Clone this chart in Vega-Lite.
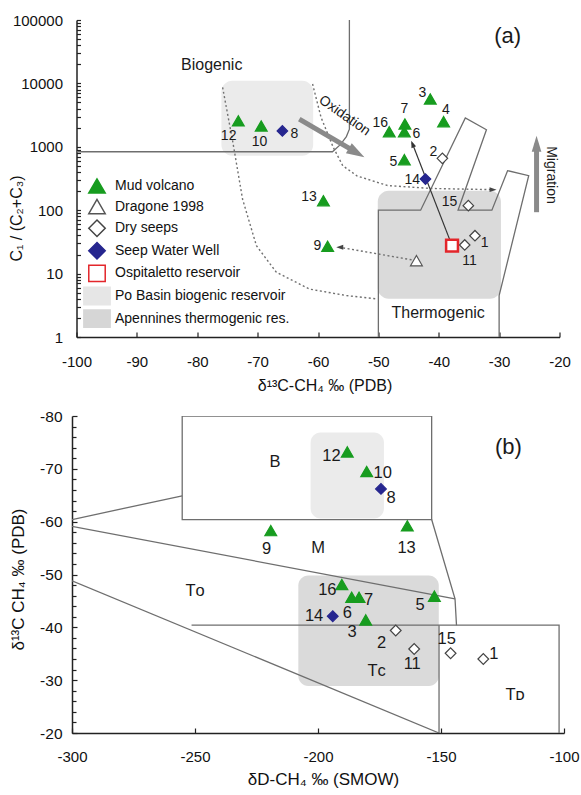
{
  "$schema": "https://vega.github.io/schema/vega-lite/v6.json",
  "background": "white",
  "padding": {"left": 8, "top": 13, "right": 5, "bottom": 5},
  "config": {
    "view": {"stroke": null},
    "font": "Liberation Sans",
    "axis": {"grid": false, "domainColor": "#222", "domainWidth": 1.5, "tickColor": "#222", "tickWidth": 1.2, "tickSize": -5, "labelColor": "#111", "titleColor": "#111", "labelFont": "Liberation Sans", "titleFont": "Liberation Sans", "titleFontWeight": "normal", "labelFlush": false, "labelOverlap": false},
    "text": {"font": "Liberation Sans", "color": "#1a1a1a"}
  },
  "datasets": {
    "ptsA": [
      {"id": "1", "type": "Dry seeps", "x": -34.0, "y": 39.6},
      {"id": "2", "type": "Dry seeps", "x": -39.4, "y": 658},
      {"id": "3", "type": "Mud volcano", "x": -41.4, "y": 5680},
      {"id": "4", "type": "Mud volcano", "x": -39.2, "y": 2490},
      {"id": "5", "type": "Mud volcano", "x": -45.7, "y": 626},
      {"id": "6", "type": "Mud volcano", "x": -45.7, "y": 1730},
      {"id": "7", "type": "Mud volcano", "x": -45.6, "y": 2290},
      {"id": "8", "type": "Seep Water Well", "x": -65.9, "y": 1780},
      {"id": "9", "type": "Mud volcano", "x": -58.4, "y": 27},
      {"id": "10", "type": "Mud volcano", "x": -69.4, "y": 2130},
      {"id": "11", "type": "Dry seeps", "x": -35.7, "y": 28.3},
      {"id": "12", "type": "Mud volcano", "x": -73.2, "y": 2570},
      {"id": "13", "type": "Mud volcano", "x": -59.1, "y": 141},
      {"id": "14", "type": "Seep Water Well", "x": -42.2, "y": 310},
      {"id": "15", "type": "Dry seeps", "x": -35.1, "y": 118},
      {"id": "16", "type": "Mud volcano", "x": -48.2, "y": 1730},
      {"id": "D", "type": "Dragone 1998", "x": -43.7, "y": 16},
      {"id": "O", "type": "Ospitaletto reservoir", "x": -37.8, "y": 27.6}
    ],
    "lblA": [
      {"t": "1", "x": -32.4, "y": 30},
      {"t": "2", "x": -40.9, "y": 835},
      {"t": "3", "x": -42.7, "y": 6980},
      {"t": "4", "x": -38.8, "y": 3810},
      {"t": "5", "x": -47.5, "y": 582},
      {"t": "6", "x": -43.7, "y": 1590},
      {"t": "7", "x": -45.7, "y": 3950},
      {"t": "8", "x": -63.9, "y": 1590},
      {"t": "9", "x": -60.1, "y": 27.5},
      {"t": "10", "x": -69.7, "y": 1178},
      {"t": "11", "x": -34.9, "y": 16},
      {"t": "12", "x": -74.8, "y": 1465},
      {"t": "13", "x": -61.5, "y": 160},
      {"t": "14", "x": -44.4, "y": 299},
      {"t": "15", "x": -38.2, "y": 133},
      {"t": "16", "x": -49.7, "y": 2370}
    ],
    "txtA": [
      {"t": "Biogenic", "x": -77.6, "y": 19500},
      {"t": "Thermogenic", "x": -40.1, "y": 2.39},
      {"t": "(a)", "x": -28.6, "y": 55000},
      {"t": "Oxidation", "x": -55.6, "y": 3100},
      {"t": "Migration", "x": -21.4, "y": 359}
    ],
    "regA": [
      {"name": "Po Basin biogenic reservoir", "x": -76.0, "x2": -60.8, "y": 720, "y2": 11000},
      {"name": "Apennines thermogenic res.", "x": -50.1, "x2": -29.7, "y": 4, "y2": 203}
    ],
    "linA": [
      {"g": "bio", "o": 1, "x": -100, "y": 835},
      {"g": "bio", "o": 2, "x": -57.6, "y": 835},
      {"g": "bio", "o": 3, "x": -56.3, "y": 1080},
      {"g": "bio", "o": 4, "x": -55.3, "y": 1450},
      {"g": "bio", "o": 5, "x": -54.8, "y": 1900},
      {"g": "bio", "o": 6, "x": -54.8, "y": 100000},
      {"g": "thermo", "o": 1, "x": -50, "y": 1},
      {"g": "thermo", "o": 2, "x": -50, "y": 100},
      {"g": "thermo", "o": 3, "x": -43, "y": 100},
      {"g": "thermo", "o": 4, "x": -35.6, "y": 2845},
      {"g": "thermo", "o": 5, "x": -32.1, "y": 1860},
      {"g": "thermo", "o": 6, "x": -36.8, "y": 100},
      {"g": "thermo", "o": 7, "x": -31.2, "y": 100},
      {"g": "thermo", "o": 8, "x": -28.6, "y": 420},
      {"g": "thermo", "o": 9, "x": -25.1, "y": 350},
      {"g": "thermo", "o": 10, "x": -30, "y": 4.5},
      {"g": "thermo", "o": 11, "x": -30, "y": 1},
      {"g": "d1", "o": 1, "x": -75.8, "y": 8670},
      {"g": "d1", "o": 2, "x": -74.1, "y": 1178},
      {"g": "d1", "o": 3, "x": -72.5, "y": 150},
      {"g": "d1", "o": 4, "x": -70.2, "y": 27.5},
      {"g": "d1", "o": 5, "x": -66.9, "y": 10.5},
      {"g": "d1", "o": 6, "x": -61.4, "y": 5.7},
      {"g": "d1", "o": 7, "x": -55.3, "y": 4.5},
      {"g": "d1", "o": 8, "x": -50.4, "y": 4.0},
      {"g": "d2", "o": 1, "x": -60.9, "y": 9800},
      {"g": "d2", "o": 2, "x": -59.5, "y": 2920},
      {"g": "d2", "o": 3, "x": -57.5, "y": 993},
      {"g": "d2", "o": 4, "x": -55.9, "y": 503},
      {"g": "d2", "o": 5, "x": -53.5, "y": 346},
      {"g": "d2", "o": 6, "x": -48.5, "y": 245},
      {"g": "d2", "o": 7, "x": -41.2, "y": 220},
      {"g": "d2", "o": 8, "x": -31.0, "y": 211},
      {"g": "d3", "o": 1, "x": -44.5, "y": 16.5},
      {"g": "d3", "o": 2, "x": -56.4, "y": 26},
      {"g": "r6", "o": 1, "x": -37.8, "y": 27.6},
      {"g": "r6", "o": 2, "x": -44.4, "y": 1150},
      {"g": "ox", "o": 1, "x": -63.1, "y": 2740},
      {"g": "ox", "o": 2, "x": -53.6, "y": 807},
      {"g": "mig", "o": 1, "x": -23.8, "y": 93},
      {"g": "mig", "o": 2, "x": -23.8, "y": 1120}
    ],
    "arrA": [
      {"g": "ox", "x": -53.6, "y": 807},
      {"g": "mig", "x": -23.8, "y": 1120},
      {"g": "d2", "x": -31.0, "y": 211},
      {"g": "d3", "x": -56.4, "y": 26},
      {"g": "r6", "x": -44.35, "y": 1107}
    ],
    "ptsB": [
      {"id": "1", "type": "Dry seeps", "x": -132.8, "y": -34.0},
      {"id": "2", "type": "Dry seeps", "x": -168.4, "y": -39.4},
      {"id": "3", "type": "Mud volcano", "x": -180.6, "y": -41.4},
      {"id": "5", "type": "Mud volcano", "x": -152.7, "y": -45.9},
      {"id": "6", "type": "Mud volcano", "x": -186.3, "y": -45.7},
      {"id": "7", "type": "Mud volcano", "x": -183.3, "y": -45.7},
      {"id": "8", "type": "Seep Water Well", "x": -174.4, "y": -66.2},
      {"id": "9", "type": "Mud volcano", "x": -219.2, "y": -58.3},
      {"id": "10", "type": "Mud volcano", "x": -180.2, "y": -69.5},
      {"id": "11", "type": "Dry seeps", "x": -160.9, "y": -35.9},
      {"id": "12", "type": "Mud volcano", "x": -188.1, "y": -73.2},
      {"id": "13", "type": "Mud volcano", "x": -163.7, "y": -59.2},
      {"id": "14", "type": "Seep Water Well", "x": -194.0, "y": -42.1},
      {"id": "15", "type": "Dry seeps", "x": -146.1, "y": -35.1},
      {"id": "16", "type": "Mud volcano", "x": -190.3, "y": -48.1}
    ],
    "lblB": [
      {"t": "12", "x": -194.5, "y": -72.5},
      {"t": "10", "x": -173.7, "y": -69.2},
      {"t": "8", "x": -170.3, "y": -64.5},
      {"t": "9", "x": -220.9, "y": -54.8},
      {"t": "13", "x": -164.0, "y": -55.1},
      {"t": "16", "x": -196.2, "y": -47.1},
      {"t": "7", "x": -179.4, "y": -45.1},
      {"t": "6", "x": -188.1, "y": -42.8},
      {"t": "5", "x": -158.5, "y": -44.3},
      {"t": "14", "x": -201.6, "y": -42.2},
      {"t": "3", "x": -186.1, "y": -39.2},
      {"t": "2", "x": -174.1, "y": -37.0},
      {"t": "11", "x": -161.7, "y": -33.1},
      {"t": "15", "x": -147.7, "y": -37.8},
      {"t": "1", "x": -128.5, "y": -34.9}
    ],
    "txtB": [
      {"t": "B", "x": -217.5, "y": -71.3},
      {"t": "M", "x": -199.9, "y": -55.0},
      {"t": "Tᴏ", "x": -250, "y": -46.9},
      {"t": "Tᴄ", "x": -176.2, "y": -31.8},
      {"t": "Tᴅ", "x": -119.9, "y": -27.2}
    ],
    "regB": [
      {"name": "Po Basin biogenic reservoir", "x": -203, "x2": -173.2, "y": -76.9, "y2": -60.6},
      {"name": "Apennines thermogenic res.", "x": -208, "x2": -150.9, "y": -49.8, "y2": -28.9}
    ],
    "linB": [
      {"g": "box", "o": 1, "x": -255.2, "y": -80},
      {"g": "box", "o": 2, "x": -153.8, "y": -80},
      {"g": "box", "o": 3, "x": -153.8, "y": -60.4},
      {"g": "box", "o": 4, "x": -255.2, "y": -60.4},
      {"g": "box", "o": 5, "x": -255.2, "y": -80},
      {"g": "rline", "o": 1, "x": -153.8, "y": -60.4},
      {"g": "rline", "o": 2, "x": -144.3, "y": -45.4},
      {"g": "rline", "o": 3, "x": -143.7, "y": -40.4},
      {"g": "l1", "o": 1, "x": -300, "y": -60.4},
      {"g": "l1", "o": 2, "x": -255.2, "y": -64.9},
      {"g": "l2", "o": 1, "x": -300, "y": -59.1},
      {"g": "l2", "o": 2, "x": -144.3, "y": -45.4},
      {"g": "l3", "o": 1, "x": -300, "y": -48.8},
      {"g": "l3", "o": 2, "x": -150.8, "y": -20},
      {"g": "td", "o": 1, "x": -251.4, "y": -40.4},
      {"g": "td", "o": 2, "x": -102, "y": -40.4},
      {"g": "td", "o": 3, "x": -102, "y": -20},
      {"g": "tdl", "o": 1, "x": -150.8, "y": -40.4},
      {"g": "tdl", "o": 2, "x": -150.8, "y": -20}
    ]
  },
  "vconcat": [
    {
      "width": 483,
      "height": 317,
      "layer": [
        {
          "data": {"name": "regA"},
          "transform": [{"filter": {"field": "name", "equal": "Po Basin biogenic reservoir"}}],
          "mark": {"type": "rect", "cornerRadius": 11, "color": "#ebebeb"},
          "encoding": {
            "x": {"field": "x", "type": "quantitative", "scale": {"domain": [-100, -20], "nice": false, "zero": false},
              "axis": {"values": [-100, -90, -80, -70, -60, -50, -40, -30, -20], "labelExpr": "replace(datum.label, '−', '-')", "labelOverlap": false, "labelFontSize": 15, "labelPadding": 22, "title": "δ¹³C-CH₄ ‰ (PDB)", "titleFontSize": 16, "titleX": 248, "titleY": 48, "titleBaseline": "middle", "titleAnchor": null}},
            "x2": {"field": "x2"},
            "y": {"field": "y", "type": "quantitative", "scale": {"type": "log", "domain": [1, 100000], "nice": false},
              "axis": {"values": [1,2,3,4,5,6,7,8,9,10,20,30,40,50,60,70,80,90,100,200,300,400,500,600,700,800,900,1000,2000,3000,4000,5000,6000,7000,8000,9000,10000,20000,30000,40000,50000,60000,70000,80000,90000,100000],
                "format": "d", "labelExpr": "indexof([1,10,100,1000,10000,100000], datum.value) >= 0 ? datum.label : ''", "labelOverlap": false,
                "tickSize": -4, "labelFontSize": 15, "labelPadding": 18, "title": "C₁ / (C₂+C₃)", "titleFontSize": 16, "titleAngle": 270, "titleX": -60, "titleY": 198, "titleBaseline": "middle", "titleAlign": "center"}},
            "y2": {"field": "y2"}
          }
        },
        {
          "data": {"name": "regA"},
          "transform": [{"filter": {"field": "name", "equal": "Apennines thermogenic res."}}],
          "mark": {"type": "rect", "cornerRadius": 11, "color": "#dadada"},
          "encoding": {"x": {"field": "x", "type": "quantitative"}, "x2": {"field": "x2"}, "y": {"field": "y", "type": "quantitative"}, "y2": {"field": "y2"}}
        },
        {
          "data": {"name": "linA"},
          "transform": [{"filter": {"field": "g", "oneOf": ["bio", "thermo"]}}],
          "mark": {"type": "line", "color": "#6e6e6e", "strokeWidth": 1.3, "clip": true},
          "encoding": {"x": {"field": "x", "type": "quantitative"}, "y": {"field": "y", "type": "quantitative"}, "detail": {"field": "g"}, "order": {"field": "o"}}
        },
        {
          "data": {"name": "linA"},
          "transform": [{"filter": {"field": "g", "oneOf": ["d1", "d2", "d3"]}}],
          "mark": {"type": "line", "color": "#707070", "strokeWidth": 1.4, "strokeDash": [2, 2.5], "clip": true},
          "encoding": {"x": {"field": "x", "type": "quantitative"}, "y": {"field": "y", "type": "quantitative"}, "detail": {"field": "g"}, "order": {"field": "o"}}
        },
        {
          "data": {"name": "linA"},
          "transform": [{"filter": {"field": "g", "equal": "r6"}}],
          "mark": {"type": "line", "color": "#333333", "strokeWidth": 1.2},
          "encoding": {"x": {"field": "x", "type": "quantitative"}, "y": {"field": "y", "type": "quantitative"}, "order": {"field": "o"}}
        },
        {
          "data": {"name": "linA"},
          "transform": [{"filter": {"field": "g", "oneOf": ["ox", "mig"]}}],
          "mark": {"type": "line", "color": "#8a8a8a", "strokeWidth": 5},
          "encoding": {"x": {"field": "x", "type": "quantitative"}, "y": {"field": "y", "type": "quantitative"}, "detail": {"field": "g"}, "order": {"field": "o"}}
        },
        {
          "data": {"name": "arrA"},
          "transform": [{"filter": {"field": "g", "equal": "ox"}}],
          "mark": {"type": "point", "shape": "M0,-1L0.65,1L-0.65,1Z", "filled": true, "color": "#8a8a8a", "size": 324, "angle": 120, "opacity": 1},
          "encoding": {"x": {"field": "x", "type": "quantitative"}, "y": {"field": "y", "type": "quantitative"}}
        },
        {
          "data": {"name": "arrA"},
          "transform": [{"filter": {"field": "g", "equal": "mig"}}],
          "mark": {"type": "point", "shape": "M0,-1L0.6,1L-0.6,1Z", "filled": true, "color": "#8a8a8a", "size": 256, "angle": 0, "opacity": 1},
          "encoding": {"x": {"field": "x", "type": "quantitative"}, "y": {"field": "y", "type": "quantitative"}}
        },
        {
          "data": {"name": "arrA"},
          "transform": [{"filter": {"field": "g", "equal": "d2"}}],
          "mark": {"type": "point", "shape": "M0,-1L0.7,1L-0.7,1Z", "filled": true, "color": "#444", "size": 49, "angle": 90, "opacity": 1},
          "encoding": {"x": {"field": "x", "type": "quantitative"}, "y": {"field": "y", "type": "quantitative"}}
        },
        {
          "data": {"name": "arrA"},
          "transform": [{"filter": {"field": "g", "equal": "d3"}}],
          "mark": {"type": "point", "shape": "M0,-1L0.7,1L-0.7,1Z", "filled": true, "color": "#444", "size": 49, "angle": 270, "opacity": 1},
          "encoding": {"x": {"field": "x", "type": "quantitative"}, "y": {"field": "y", "type": "quantitative"}}
        },
        {
          "data": {"name": "arrA"},
          "transform": [{"filter": {"field": "g", "equal": "r6"}}],
          "mark": {"type": "point", "shape": "M0,-1L0.7,1L-0.7,1Z", "filled": true, "color": "#333", "size": 49, "angle": 338, "opacity": 1},
          "encoding": {"x": {"field": "x", "type": "quantitative"}, "y": {"field": "y", "type": "quantitative"}}
        },
        {
          "data": {"name": "ptsA"},
          "mark": {"type": "point", "filled": true, "opacity": 1},
          "encoding": {
            "x": {"field": "x", "type": "quantitative"},
            "y": {"field": "y", "type": "quantitative"},
            "shape": {"field": "type", "type": "nominal",
              "scale": {"domain": ["Mud volcano", "Dragone 1998", "Dry seeps", "Seep Water Well", "Ospitaletto reservoir", "Po Basin biogenic reservoir", "Apennines thermogenic res."],
                "range": ["triangle-up", "triangle-up", "diamond", "diamond", "square", "M-1.6,-1.05H1.6V1.05H-1.6Z", "M-1.6,-1.05H1.6V1.05H-1.6Z"]},
              "legend": {"title": null, "orient": "none", "legendX": 16, "legendY": 157, "symbolSize": 270, "labelFontSize": 14, "labelOffset": 9, "rowPadding": -1.4, "padding": 0, "symbolStrokeWidth": 1.5, "labelLimit": 300, "labelColor": "#111", "labelFont": "Liberation Sans"}},
            "fill": {"field": "type", "type": "nominal",
              "scale": {"domain": ["Mud volcano", "Dragone 1998", "Dry seeps", "Seep Water Well", "Ospitaletto reservoir", "Po Basin biogenic reservoir", "Apennines thermogenic res."],
                "range": ["#179c1f", "#ffffff", "#ffffff", "#26268f", "#ffffff", "#e6e6e6", "#d6d6d6"]}},
            "stroke": {"field": "type", "type": "nominal",
              "scale": {"domain": ["Mud volcano", "Dragone 1998", "Dry seeps", "Seep Water Well", "Ospitaletto reservoir", "Po Basin biogenic reservoir", "Apennines thermogenic res."],
                "range": ["#179c1f", "#555555", "#444444", "#26268f", "#e3262b", "#e6e6e6", "#d6d6d6"]}},
            "size": {"condition": {"test": "datum.type === 'Dry seeps' || datum.type === 'Seep Water Well'", "value": 110}, "value": 140},
            "strokeWidth": {"condition": {"test": "datum.type === 'Ospitaletto reservoir'", "value": 2.5}, "value": 1.2}
          }
        },
        {
          "data": {"name": "lblA"},
          "mark": {"type": "text", "fontSize": 14, "align": "center", "baseline": "middle"},
          "encoding": {"x": {"field": "x", "type": "quantitative"}, "y": {"field": "y", "type": "quantitative"}, "text": {"field": "t"}}
        },
        {
          "data": {"name": "txtA"},
          "transform": [{"filter": {"field": "t", "oneOf": ["Biogenic", "Thermogenic"]}}],
          "mark": {"type": "text", "fontSize": 16, "align": "center", "baseline": "middle"},
          "encoding": {"x": {"field": "x", "type": "quantitative"}, "y": {"field": "y", "type": "quantitative"}, "text": {"field": "t"}}
        },
        {
          "data": {"name": "txtA"},
          "transform": [{"filter": {"field": "t", "equal": "(a)"}}],
          "mark": {"type": "text", "fontSize": 22, "align": "center", "baseline": "middle"},
          "encoding": {"x": {"field": "x", "type": "quantitative"}, "y": {"field": "y", "type": "quantitative"}, "text": {"field": "t"}}
        },
        {
          "data": {"name": "txtA"},
          "transform": [{"filter": {"field": "t", "equal": "Oxidation"}}],
          "mark": {"type": "text", "fontSize": 14, "align": "center", "baseline": "middle", "angle": 35},
          "encoding": {"x": {"field": "x", "type": "quantitative"}, "y": {"field": "y", "type": "quantitative"}, "text": {"field": "t"}}
        },
        {
          "data": {"name": "txtA"},
          "transform": [{"filter": {"field": "t", "equal": "Migration"}}],
          "mark": {"type": "text", "fontSize": 14, "align": "center", "baseline": "middle", "angle": 90},
          "encoding": {"x": {"field": "x", "type": "quantitative"}, "y": {"field": "y", "type": "quantitative"}, "text": {"field": "t"}}
        }
      ]
    },
    {
      "width": 492,
      "height": 317,
      "resolve": {"axis": {"y": "independent"}},
      "layer": [
        {
          "data": {"name": "regB"},
          "transform": [{"filter": {"field": "name", "equal": "Po Basin biogenic reservoir"}}],
          "mark": {"type": "rect", "cornerRadius": 10, "color": "#ebebeb"},
          "encoding": {
            "x": {"field": "x", "type": "quantitative", "scale": {"domain": [-300, -100], "nice": false, "zero": false},
              "axis": {"values": [-300, -250, -200, -150, -100], "labelExpr": "replace(datum.label, '−', '-')", "labelOverlap": false, "labelFontSize": 15, "labelPadding": 21, "title": "δD-CH₄ ‰ (SMOW)", "titleFontSize": 17, "titleX": 251, "titleY": 46, "titleBaseline": "middle", "titleAnchor": null}},
            "x2": {"field": "x2"},
            "y": {"field": "y", "type": "quantitative", "scale": {"domain": [-80, -20], "nice": false, "zero": false, "reverse": true},
              "axis": {"orient": "left", "values": [-80, -70, -60, -50, -40, -30, -20],
                "labelExpr": "replace(datum.label, '−', '-')", "labelOverlap": false, "tickSize": -5, "labelFontSize": 15.5, "labelPadding": 15, "title": "δ¹³C CH₄ ‰ (PDB)", "titleFontSize": 17, "titleAngle": 270, "titleX": -54, "titleY": 163, "titleBaseline": "middle", "titleAlign": "center"}},
            "y2": {"field": "y2"}
          }
        },
        {
          "data": {"name": "regB"},
          "transform": [{"filter": {"field": "name", "equal": "Apennines thermogenic res."}}],
          "mark": {"type": "rect", "cornerRadius": 10, "color": "#dadada"},
          "encoding": {"x": {"field": "x", "type": "quantitative"}, "x2": {"field": "x2"}, "y": {"field": "y", "type": "quantitative",
              "axis": {"orient": "left", "values": [-78,-76,-74,-72,-68,-66,-64,-62,-58,-56,-54,-52,-48,-46,-44,-42,-38,-36,-34,-32,-28,-26,-24,-22], "labels": false, "domain": false, "title": null, "tickSize": -4, "grid": false}},
            "y2": {"field": "y2"}}
        },
        {
          "data": {"name": "linB"},
          "mark": {"type": "line", "color": "#6e6e6e", "strokeWidth": 1.3, "clip": true},
          "encoding": {"x": {"field": "x", "type": "quantitative"}, "y": {"field": "y", "type": "quantitative", "axis": null}, "detail": {"field": "g"}, "order": {"field": "o"}}
        },
        {
          "data": {"name": "ptsB"},
          "mark": {"type": "point", "filled": true, "opacity": 1},
          "encoding": {
            "x": {"field": "x", "type": "quantitative"},
            "y": {"field": "y", "type": "quantitative", "axis": null},
            "shape": {"field": "type", "type": "nominal", "legend": null,
              "scale": {"domain": ["Mud volcano", "Dragone 1998", "Dry seeps", "Seep Water Well", "Ospitaletto reservoir"],
                "range": ["triangle-up", "triangle-up", "diamond", "diamond", "square"]}},
            "fill": {"field": "type", "type": "nominal", "legend": null,
              "scale": {"domain": ["Mud volcano", "Dragone 1998", "Dry seeps", "Seep Water Well", "Ospitaletto reservoir"],
                "range": ["#179c1f", "#ffffff", "#ffffff", "#2e2e9c", "#ffffff"]}},
            "stroke": {"field": "type", "type": "nominal", "legend": null,
              "scale": {"domain": ["Mud volcano", "Dragone 1998", "Dry seeps", "Seep Water Well", "Ospitaletto reservoir"],
                "range": ["#179c1f", "#555555", "#444444", "#2e2e9c", "#e3262b"]}},
            "size": {"condition": {"test": "datum.type === 'Dry seeps' || datum.type === 'Seep Water Well'", "value": 115}, "value": 140},
            "strokeWidth": {"value": 1.2}
          }
        },
        {
          "data": {"name": "lblB"},
          "mark": {"type": "text", "fontSize": 16.5, "align": "center", "baseline": "middle"},
          "encoding": {"x": {"field": "x", "type": "quantitative"}, "y": {"field": "y", "type": "quantitative", "axis": null}, "text": {"field": "t"}}
        },
        {
          "data": {"name": "txtB"},
          "mark": {"type": "text", "fontSize": 16.5, "align": "center", "baseline": "middle"},
          "encoding": {"x": {"field": "x", "type": "quantitative"}, "y": {"field": "y", "type": "quantitative", "axis": null}, "text": {"field": "t"}}
        },
        {
          "data": {"values": [{"t": "(b)", "x": -122.6, "y": -74.2}]},
          "mark": {"type": "text", "fontSize": 22, "align": "center", "baseline": "middle"},
          "encoding": {"x": {"field": "x", "type": "quantitative"}, "y": {"field": "y", "type": "quantitative", "axis": null}, "text": {"field": "t"}}
        }
      ]
    }
  ],
  "spacing": 79,
  "bounds": "flush",
  "center": true
}
